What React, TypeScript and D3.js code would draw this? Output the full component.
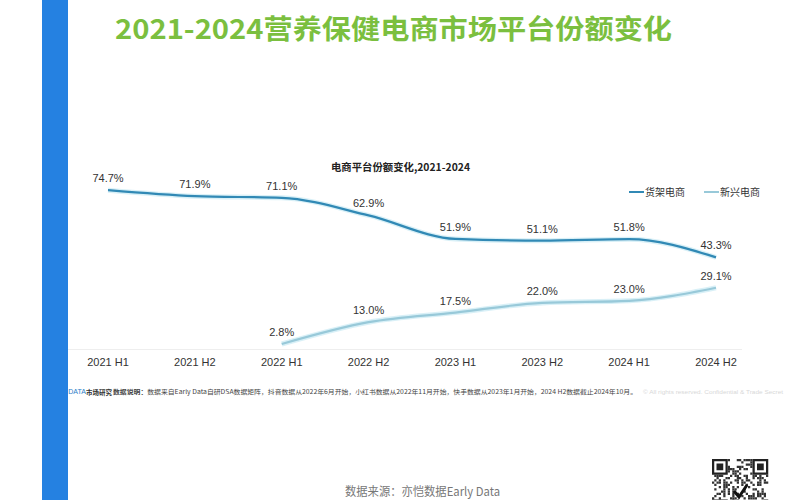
import React from "react";
import * as d3 from "d3";

const categories = ["2021 H1", "2021 H2", "2022 H1", "2022 H2", "2023 H1", "2023 H2", "2024 H1", "2024 H2"];
const shelfEcom: (number | null)[] = [74.7, 71.9, 71.1, 62.9, 51.9, 51.1, 51.8, 43.3];
const emergingEcom: (number | null)[] = [null, null, 2.8, 13.0, 17.5, 22.0, 23.0, 29.1];
const seriesNames = ["货架电商", "新兴电商"];
const seriesColors = ["#3189b5", "#98c9d9"];

const title = "2021-2024营养保健电商市场平台份额变化";
const chartTitle = "电商平台份额变化,2021-2024";
const sourceText = "数据来源：亦恺数据Early Data";
const noteLead = "数据说明：";
const noteText = "数据来自Early Data自研DSA数据矩阵，抖音数据从2022年6月开始，小红书数据从2022年11月开始，快手数据从2023年1月开始，2024 H2数据截止2024年10月。";

const FONT = "'Liberation Sans', 'Noto Sans CJK SC', sans-serif";
const CJK = "'Noto Sans CJK SC', 'Liberation Sans', sans-serif";

export default function App() {
  const x = d3.scalePoint<string>().domain(categories).range([108, 716]);
  const y = d3.scaleLinear().domain([0, 100]).range([350, 136]);

  const line = d3
    .line<{ c: string; v: number | null }>()
    .defined((d) => d.v !== null)
    .x((d) => x(d.c)!)
    .y((d) => y(d.v as number))
    .curve(d3.curveMonotoneX);

  const series = [shelfEcom, emergingEcom].map((vals, i) => ({
    name: seriesNames[i],
    color: seriesColors[i],
    points: categories.map((c, k) => ({ c, v: vals[k] })),
  }));

  // decorative QR-like block
  const qrN = 25;
  const qrSize = 2.25;
  const qrX = 712;
  const qrY = 459;
  const qrCells: { i: number; j: number }[] = [];
  for (let i = 0; i < qrN; i++) {
    for (let j = 0; j < qrN; j++) {
      const inFinder = (i < 7 && j < 7) || (i < 7 && j >= qrN - 7) || (i >= qrN - 7 && j < 7);
      if (inFinder) continue;
      const h = ((i * 31 + j * 17 + i * j * 7) ^ (i * 5 + j * 3)) % 7;
      if (h < 3) qrCells.push({ i, j });
    }
  }
  const finders = [
    [0, 0],
    [0, qrN - 7],
    [qrN - 7, 0],
  ];

  return (
    <svg
      width={800}
      height={500}
      style={{ position: "absolute", left: 0, top: 0, background: "#fff" }}
      fontFamily={FONT}
    >
      <rect x={0} y={0} width={800} height={500} fill="#fff" />

      {/* Title */}
      <text
        x={115}
        y={39}
        fontFamily={CJK}
        fontWeight={700}
        fontSize={27}
        fill="#7bbf3f"
        textLength={557}
        lengthAdjust="spacingAndGlyphs"
      >
        {title}
      </text>

      {/* chart title */}
      <text x={331} y={171} fontFamily={CJK} fontWeight={700} fontSize={10} fill="#222" textLength={139} lengthAdjust="spacingAndGlyphs">
        {chartTitle}
      </text>

      {/* Legend */}
      {series.map((s, i) => {
        const lx = i === 0 ? 629 : 704;
        return (
          <g key={s.name}>
            <line x1={lx} x2={lx + 15} y1={192} y2={192} stroke={s.color} strokeWidth={2} />
            <text x={lx + 16} y={195.5} fontFamily={CJK} fontSize={10} fill="#333">
              {s.name}
            </text>
          </g>
        );
      })}

      {/* x axis line */}
      <line x1={68} x2={742} y1={349.5} y2={349.5} stroke="#eeeeee" strokeWidth={1} />

      {/* x labels */}
      {categories.map((c) => (
        <text key={c} x={x(c)!} y={366} textAnchor="middle" fontSize={11} fill="#333">
          {c}
        </text>
      ))}

      {/* lines */}
      {series.map((s) => (
        <g key={s.name}>
          <path d={line(s.points) || ""} fill="none" stroke="#bfe6f2" strokeWidth={5} strokeOpacity={0.6} />
          <path d={line(s.points) || ""} fill="none" stroke={s.color} strokeWidth={2.2} />
        </g>
      ))}

      {/* data labels */}
      {series.map((s) =>
        s.points
          .filter((p) => p.v !== null)
          .map((p) => (
            <text
              key={s.name + p.c}
              x={x(p.c)!}
              y={y(p.v as number) - 8}
              textAnchor="middle"
              fontSize={11}
              fill="#333"
            >
              {(p.v as number).toFixed(1) + "%"}
            </text>
          ))
      )}

      {/* footnote */}
      <text x={44} y={394} fontSize={7} fill="#2a7ec8">
        <tspan fill="#b8c83a">EARL</tspan>
        <tspan>Y DATA</tspan>
      </text>
      <text x={86} y={394.5} fontFamily={CJK} fontSize={6.5} fontWeight={700} fill="#333">
        市场研究
      </text>
      <text x={113} y={394} fontFamily={CJK} fontSize={6} fill="#444" textLength={524} lengthAdjust="spacingAndGlyphs">
        <tspan fontWeight={700}>{noteLead}</tspan>
        <tspan>{noteText}</tspan>
      </text>
      <text x={643} y={394} fontSize={6} fill="#d8d8d8" textLength={140} lengthAdjust="spacingAndGlyphs">
        © All rights reserved. Confidential &amp; Trade Secret
      </text>

      {/* source */}
      <text x={345} y={496} fontFamily={CJK} fontSize={12} fill="#777" textLength={155} lengthAdjust="spacingAndGlyphs">
        {sourceText}
      </text>

      {/* QR-like decoration */}
      <g>
        {qrCells.map((c) => (
          <rect
            key={c.i + "-" + c.j}
            x={qrX + c.j * qrSize}
            y={qrY + c.i * qrSize}
            width={qrSize}
            height={qrSize}
            fill="#333"
          />
        ))}
        {finders.map(([fi, fj], k) => (
          <g key={k}>
            <rect x={qrX + fj * qrSize} y={qrY + fi * qrSize} width={7 * qrSize} height={7 * qrSize} fill="#222" />
            <rect x={qrX + (fj + 1) * qrSize} y={qrY + (fi + 1) * qrSize} width={5 * qrSize} height={5 * qrSize} fill="#fff" />
            <rect x={qrX + (fj + 2) * qrSize} y={qrY + (fi + 2) * qrSize} width={3 * qrSize} height={3 * qrSize} fill="#222" />
          </g>
        ))}
        <path d={`M${qrX + 22},${qrY + 32} l5,6 l8,-12`} fill="none" stroke="#111" strokeWidth={3} />
      </g>

      {/* left blue bar */}
      <rect x={42} y={0} width={26} height={500} fill="#2581e1" />
    </svg>
  );
}
